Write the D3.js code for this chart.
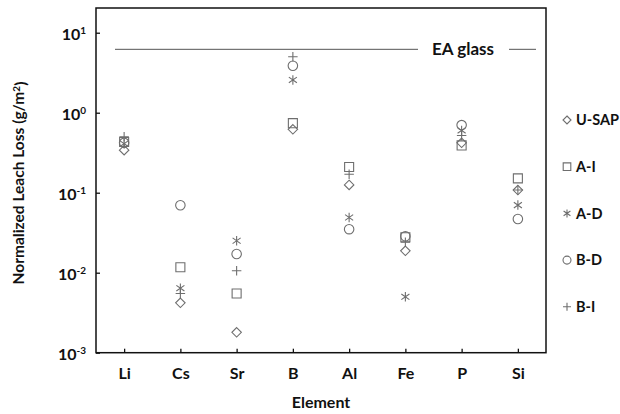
<!DOCTYPE html>
<html>
<head>
<meta charset="utf-8">
<script src="https://cdn.jsdelivr.net/npm/d3@7"></script>
<style>
  body { margin: 0; background: #fff; }
  text { font-family: Lato, "Open Sans", sans-serif; font-weight: bold; fill: #111; }
</style>
</head>
<body>
<div id="vis"></div>
<script>
    // values (g/m2), one entry per element
    var elements = ["Li", "Cs", "Sr", "B", "Al", "Fe", "P", "Si"],
        uSAP = [0.34, 0.0042, 0.0018, 0.62, 0.125, 0.0188, 0.42, 0.108],
        aI   = [0.43, 0.0117, 0.0055, 0.74, 0.21, 0.0277, 0.39, 0.151],
        aD   = [0.41, 0.0064, 0.0251, 2.57, 0.049, 0.005, 0.60, 0.070],
        bD   = [0.42, 0.0696, 0.0171, 3.87, 0.035, 0.0285, 0.70, 0.047],
        bI   = [0.50, 0.0055, 0.0106, 5.0, 0.17, 0.024, 0.52, 0.108],
        yTicks = [1e-3, 1e-2, 1e-1, 1e0, 1e1],
        yExponents = ["-3", "-2", "-1", "0", "1"],
        eaGlass = 6.2;

    var width = 620, height = 414,
        margin = {top: 8, right: 74, bottom: 61.3, left: 96};

    var svg = d3.select("#vis").append("svg").attr("width", width).attr("height", height);

    var x = d3.scalePoint().domain(elements).range([margin.left, width - margin.right]).padding(0.5),
        y = d3.scaleLog().domain([1e-3, Math.pow(10, 1.309)]).range([height - margin.bottom, margin.top]);

    // custom outline symbols, r = half width
    function sym(drawFn) {
        return { draw: function (ctx, size) { drawFn(ctx, Math.sqrt(size) / 2); } };
    }
    var diamond = sym(function (c, r) { c.moveTo(0, -r); c.lineTo(r, 0); c.lineTo(0, r); c.lineTo(-r, 0); c.closePath(); }),
        square = sym(function (c, r) { r = r * 0.95; c.rect(-r, -r, 2 * r, 2 * r); }),
        asterisk = sym(function (c, r) {
            c.moveTo(0, -r); c.lineTo(0, r);
            c.moveTo(-r * 0.85, -r * 0.6); c.lineTo(r * 0.85, r * 0.6);
            c.moveTo(-r * 0.85, r * 0.6); c.lineTo(r * 0.85, -r * 0.6);
        }),
        circle = sym(function (c, r) { c.moveTo(r, 0); c.arc(0, 0, r, 0, 2 * Math.PI); }),
        plus = sym(function (c, r) { c.moveTo(0, -r); c.lineTo(0, r); c.moveTo(-r, 0); c.lineTo(r, 0); });

    var series = [
        {name: "U-SAP", values: uSAP, type: diamond},
        {name: "A-I", values: aI, type: square},
        {name: "A-D", values: aD, type: asterisk},
        {name: "B-D", values: bD, type: circle},
        {name: "B-I", values: bI, type: plus}
    ];

    var markSize = 90, markColor = "#6e6e6e";

    // EA glass reference line with a gap for its label
    var eaY = y(eaGlass);
    svg.append("line").attr("x1", 115).attr("x2", 418).attr("y1", eaY).attr("y2", eaY)
        .attr("stroke", "#555").attr("stroke-width", 1);
    svg.append("line").attr("x1", 509).attr("x2", 536).attr("y1", eaY).attr("y2", eaY)
        .attr("stroke", "#555").attr("stroke-width", 1);
    svg.append("text").attr("x", 463).attr("y", eaY + 6).attr("text-anchor", "middle")
        .style("font-size", "17px").text("EA glass");

    // points
    series.forEach(function (s) {
        svg.append("g").selectAll("path").data(s.values).join("path")
            .attr("transform", function (d, i) { return "translate(" + x(elements[i]) + "," + y(d) + ")"; })
            .attr("d", d3.symbol().type(s.type).size(markSize))
            .attr("fill", "none").attr("stroke", markColor).attr("stroke-width", 1.1);
    });

    // axes, ticks pointing inward
    var xAxis = svg.append("g").attr("transform", "translate(0," + (height - margin.bottom) + ")")
        .call(d3.axisBottom(x).tickSize(-4).tickSizeOuter(0));
    xAxis.selectAll("text").attr("y", 26).attr("dy", null).style("font-size", "16px");

    var yAxis = svg.append("g").attr("transform", "translate(" + margin.left + ",0)")
        .call(d3.axisLeft(y).tickValues(yTicks).tickSize(-4).tickSizeOuter(0).tickPadding(10).tickFormat(function () { return "10"; }));
    yAxis.selectAll("text").style("font-size", "16px").attr("dy", "0.4em")
        .append("tspan").attr("dy", "-0.55em").style("font-size", "10px")
        .text(function (d, i) { return yExponents[i]; });

    svg.selectAll(".domain").remove();
    svg.selectAll(".tick line").attr("stroke", "#111").attr("stroke-width", 1.3);

    // frame
    svg.append("rect").attr("x", margin.left).attr("y", margin.top)
        .attr("width", width - margin.right - margin.left).attr("height", height - margin.bottom - margin.top)
        .attr("fill", "none").attr("stroke", "#111").attr("stroke-width", 1.5);

    // axis titles
    svg.append("text").attr("x", (margin.left + width - margin.right) / 2).attr("y", 408)
        .attr("text-anchor", "middle").style("font-size", "16px").text("Element");

    var yTitle = svg.append("text").attr("transform", "translate(24,183) rotate(-90)")
        .attr("text-anchor", "middle").style("font-size", "15.5px");
    yTitle.append("tspan").text("Normalized Leach Loss (g/m");
    yTitle.append("tspan").attr("dy", "-0.45em").style("font-size", "10px").text("2");
    yTitle.append("tspan").attr("dy", "0.45em").text(")");

    // legend
    var legend = svg.append("g").selectAll("g").data(series).join("g")
        .attr("transform", function (d, i) { return "translate(567," + (120 + i * 46.7) + ")"; });
    legend.append("path").attr("d", function (d) { return d3.symbol().type(d.type).size(64)(); })
        .attr("fill", "none").attr("stroke", markColor).attr("stroke-width", 1.1);
    legend.append("text").attr("x", 9).attr("dy", "0.36em").style("font-size", "14.5px")
        .text(function (d) { return d.name; });
</script>
</body>
</html>
